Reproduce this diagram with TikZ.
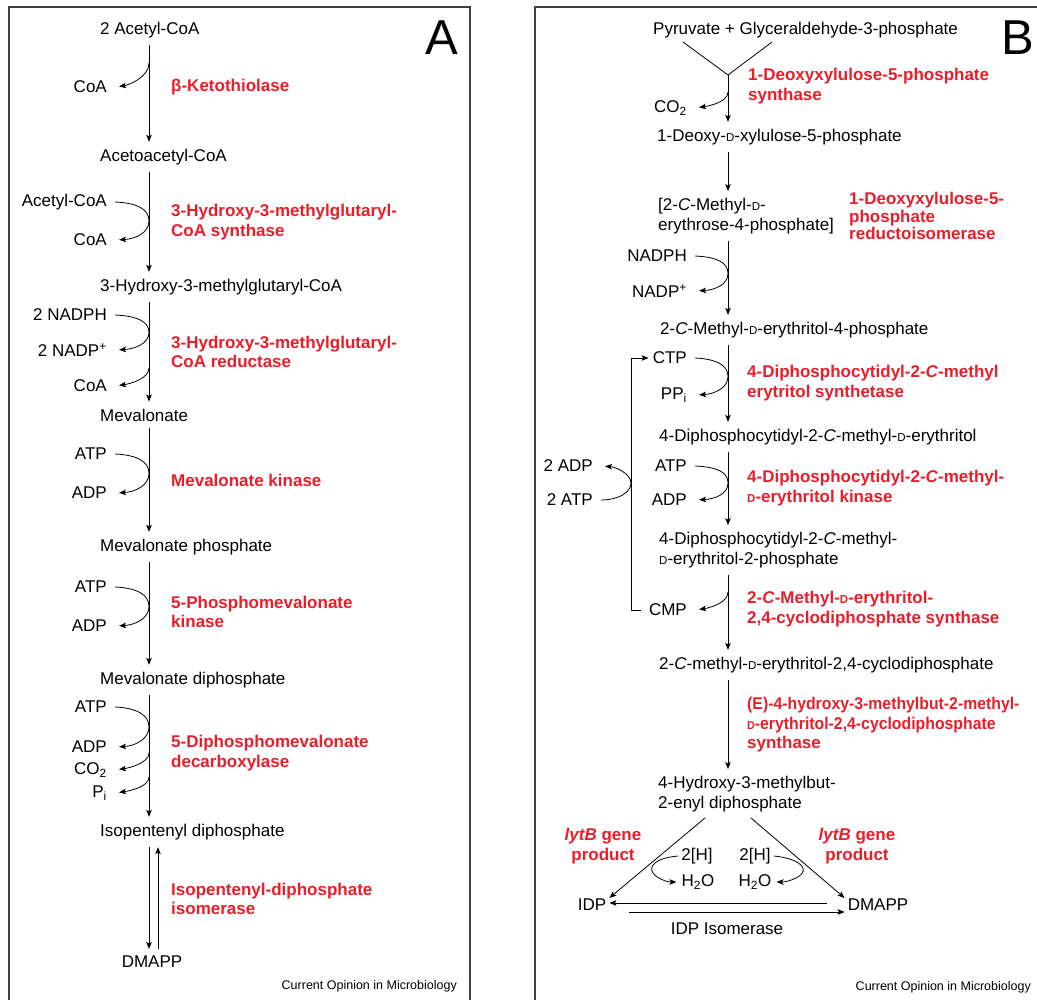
\documentclass[tikz,border=0pt]{standalone}
\usepackage{fontspec}
\usepackage{graphicx}
\setmainfont{Liberation Sans}
\usetikzlibrary{arrows.meta,calc}
\definecolor{enzred}{RGB}{232,30,42}
\definecolor{framegray}{gray}{0.25}
\newcommand{\dsc}{{\fontsize{11.5}{12}\selectfont D}}
\newcommand{\narrow}[1]{\scalebox{0.93}[1]{#1}}

\begin{document}
\begin{tikzpicture}[x=1pt,y=-1pt,font=\fontsize{17}{19.5}\selectfont,
  cpd/.style={anchor=west,inner xsep=0pt,inner ysep=7pt,align=left},
  sidecpd/.style={anchor=east,inner xsep=8pt,inner ysep=1pt},
  smallcpd/.style={inner xsep=3pt,inner ysep=1pt},
  enz/.style={anchor=west,inner sep=0pt,align=left,text=enzred,font=\bfseries\fontsize{17}{19.5}\selectfont},
  rxn/.style={-{Stealth[length=7pt,width=5.5pt,inset=1.5pt]},line width=0.8pt},
  sidearr/.style={rxn,shorten >=4pt}]
\useasboundingbox (0,0) rectangle (1037,1000);

% frames
\draw[framegray,line width=1.2pt] (9,1000) -- (9,7) -- (470,7) -- (470,1000);
\draw[framegray,line width=1.2pt] (535,1000) -- (535,7) -- (1037,7);
\node[font=\fontsize{49}{50}\selectfont] (labA) at (442,38) {A};
\node[font=\fontsize{49}{50}\selectfont] (labB) at (1018,38) {B};
\node[anchor=east,inner sep=0pt,font=\fontsize{12.5}{14}\selectfont] (srcA) at (457,986) {Current Opinion in Microbiology};
\node[anchor=east,inner sep=0pt,font=\fontsize{12.5}{14}\selectfont] (srcB) at (1031,987) {Current Opinion in Microbiology};

%%% A: mevalonate pathway
\coordinate (axisA) at (149,0);
\coordinate (axisA2) at (158,0);
\node[cpd] (a1) at (100,30) {2 Acetyl-CoA};
\node[cpd] (a2) at (100,157) {Acetoacetyl-CoA};
\node[cpd] (a3) at (100,287) {3-Hydroxy-3-methylglutaryl-CoA};
\node[cpd] (a4) at (100,415) {Mevalonate};
\node[cpd] (a5) at (100,547) {Mevalonate phosphate};
\node[cpd] (a6) at (100,680) {Mevalonate diphosphate};
\node[cpd] (a7) at (100,832) {Isopentenyl diphosphate};
\node[cpd,anchor=center] (a8) at (152,962) {DMAPP};

\draw[rxn] (axisA |- a1.south) -- (axisA |- a2.north);
\draw[rxn] (axisA |- a2.south) -- (axisA |- a3.north);
\draw[rxn] (axisA |- a3.south) -- (axisA |- a4.north);
\draw[rxn] (axisA |- a4.south) -- (axisA |- a5.north);
\draw[rxn] (axisA |- a5.south) -- (axisA |- a6.north);
\draw[rxn] (axisA |- a6.south) -- (axisA |- a7.north);
\draw[rxn] (axisA |- a7.south) -- (axisA |- a8.north);
\draw[rxn] (axisA2 |- a8.north) -- (axisA2 |- a7.south);

\node[sidecpd] (coa1) at (115,87) {CoA};
\node[sidecpd] (acA2) at (115,202) {Acetyl-CoA};
\node[sidecpd] (coaA2) at (115,240) {CoA};
\node[sidecpd] (nadph) at (115,315) {2 NADPH};
\node[sidecpd] (nadp) at (115,350) {2 NADP\textsuperscript{+}};
\node[sidecpd] (coaA3) at (115,386) {CoA};
\node[sidecpd] (atp1) at (115,454) {ATP};
\node[sidecpd] (adp1) at (115,493) {ADP};
\node[sidecpd] (atp2) at (115,587) {ATP};
\node[sidecpd] (adp2) at (115,626) {ADP};
\node[sidecpd] (atp3) at (115,707) {ATP};
\node[sidecpd] (adp3) at (115,747) {ADP};
\node[sidecpd] (co2A) at (115,770) {CO\textsubscript{2}};
\node[sidecpd] (piA) at (115,793) {P\textsubscript{i}};

\draw[sidearr] ($(axisA |- coa1)+(0,-24)$) .. controls +(0,14) and +(14,-2) .. (coa1.east);
\draw[sidearr] (acA2.east) .. controls +(22,1) and +(0,-12) .. ($(axisA |- acA2)!.5!(axisA |- coaA2)$) .. controls +(0,12) and +(20,-1) .. (coaA2.east);
\draw[sidearr] (nadph.east) .. controls +(22,1) and +(0,-11) .. ($(axisA |- nadph)!.5!(axisA |- nadp)$) .. controls +(0,11) and +(20,-1) .. (nadp.east);
\draw[sidearr] ($(axisA |- coaA3)+(0,-18)$) .. controls +(0,11) and +(14,-2) .. (coaA3.east);
\draw[sidearr] (atp1.east) .. controls +(22,1) and +(0,-12) .. ($(axisA |- atp1)!.5!(axisA |- adp1)$) .. controls +(0,12) and +(20,-1) .. (adp1.east);
\draw[sidearr] (atp2.east) .. controls +(22,1) and +(0,-12) .. ($(axisA |- atp2)!.5!(axisA |- adp2)$) .. controls +(0,12) and +(20,-1) .. (adp2.east);
\draw[sidearr] (atp3.east) .. controls +(22,1) and +(0,-12) .. ($(axisA |- atp3)!.5!(axisA |- adp3)$) .. controls +(0,12) and +(20,-1) .. (adp3.east);
\draw[sidearr] ($(axisA |- co2A)+(0,-17)$) .. controls +(0,10) and +(14,-2) .. (co2A.east);
\draw[sidearr] ($(axisA |- piA)+(0,-16)$) .. controls +(0,10) and +(14,-2) .. (piA.east);

\node[enz] (e1) at (171,87) {β-Ketothiolase};
\node[enz] (e2) at (171,222) {3-Hydroxy-3-methylglutaryl-\\CoA synthase};
\node[enz] (e3) at (171,352) {3-Hydroxy-3-methylglutaryl-\\CoA reductase};
\node[enz] (e4) at (171,480) {Mevalonate kinase};
\node[enz] (e5) at (171,612) {5-Phosphomevalonate\\kinase};
\node[enz] (e6) at (171,753) {5-Diphosphomevalonate\\decarboxylase};
\node[enz] (e7) at (171,899) {Isopentenyl-diphosphate\\isomerase};

%%% B: non-mevalonate pathway
\coordinate (axisB) at (728,0);
\node[cpd] (b0) at (653,30) {Pyruvate + Glyceraldehyde-3-phosphate};
\node[cpd] (b1) at (657,137) {1-Deoxy-\dsc-xylulose-5-phosphate};
\node[cpd] (b2) at (658,216) {[2-\textit{C}-Methyl-\dsc-\\erythrose-4-phosphate]};
\node[cpd] (b3) at (660,330) {2-\textit{C}-Methyl-\dsc-erythritol-4-phosphate};
\node[cpd] (b4) at (659,437) {4-Diphosphocytidyl-2-\textit{C}-methyl-\dsc-erythritol};
\node[cpd] (b5) at (659,550) {4-Diphosphocytidyl-2-\textit{C}-methyl-\\\dsc-erythritol-2-phosphate};
\node[cpd] (b6) at (659,665) {2-\textit{C}-methyl-\dsc-erythritol-2,4-cyclodiphosphate};
\node[cpd] (b7) at (658,794) {4-Hydroxy-3-methylbut-\\2-enyl diphosphate};
\node[smallcpd] (idp) at (592,905) {IDP};
\node[smallcpd] (dmapp) at (878,905) {DMAPP};

\coordinate (yl) at (683,42);
\coordinate (yr) at (772,42);
\coordinate (yj) at (728,75);
\draw[line width=0.8pt] (yl) -- (yj) -- (yr);
\draw[rxn] (yj) -- (axisB |- b1.north);
\draw[rxn] (axisB |- b1.south) -- (axisB |- b2.north);
\draw[rxn] (axisB |- b2.south) -- (axisB |- b3.north);
\draw[rxn] (axisB |- b3.south) -- (axisB |- b4.north);
\draw[rxn] (axisB |- b4.south) -- (axisB |- b5.north);
\draw[rxn] (axisB |- b5.south) -- (axisB |- b6.north);
\draw[rxn] (axisB |- b6.south) -- (axisB |- b7.north);

\node[sidecpd] (co2B) at (695,108) {CO\textsubscript{2}};
\node[sidecpd] (nadphB) at (695,256) {NADPH};
\node[sidecpd] (nadpB) at (695,291) {NADP\textsuperscript{+}};
\node[sidecpd] (ctp) at (695,358) {CTP};
\node[sidecpd] (ppi) at (695,395) {PP\textsubscript{i}};
\node[sidecpd] (atpB) at (695,466) {ATP};
\node[sidecpd] (adpB) at (695,500) {ADP};
\node[sidecpd] (cmp) at (695,610) {CMP};
\node[sidecpd] (adpRec) at (601,466) {2 ADP};
\node[sidecpd] (atpRec) at (601,500) {2 ATP};

\draw[sidearr] ($(axisB |- co2B)+(0,-16)$) .. controls +(0,10) and +(14,-2) .. (co2B.east);
\draw[sidearr] (nadphB.east) .. controls +(22,1) and +(0,-11) .. ($(axisB |- nadphB)!.5!(axisB |- nadpB)$) .. controls +(0,11) and +(20,-1) .. (nadpB.east);
\draw[sidearr] (ctp.east) .. controls +(22,1) and +(0,-11) .. ($(axisB |- ctp)!.5!(axisB |- ppi)$) .. controls +(0,11) and +(20,-1) .. (ppi.east);
\draw[sidearr] (atpB.east) .. controls +(22,1) and +(0,-11) .. ($(axisB |- atpB)!.5!(axisB |- adpB)$) .. controls +(0,11) and +(20,-1) .. (adpB.east);
\draw[sidearr] ($(axisB |- cmp)+(0,-18)$) .. controls +(0,11) and +(14,-2) .. (cmp.east);

% CMP recycled to CTP
\coordinate (brk) at (631,0);
\draw[rxn] (cmp.west) -- (cmp.west -| brk) -- (ctp.west -| brk) -- ([xshift=4pt]ctp.west);
\draw[sidearr] (atpRec.east) .. controls +(18,0) and +(0,9) .. ($(brk |- atpRec)!.5!(brk |- adpRec)$) .. controls +(0,-9) and +(15,1) .. (adpRec.east);

\node[enz] (f1) at (748,86) {1-Deoxyxylulose-5-phosphate\\synthase};
\node[enz,font=\bfseries\fontsize{17}{17.5}\selectfont] (f2) at (849,216) {1-Deoxyxylulose-5-\\phosphate\\reductoisomerase};
\node[enz] (f3) at (747,383) {4-Diphosphocytidyl-2-\textit{C}-methyl\\erytritol synthetase};
\node[enz] (f4) at (747,488) {4-Diphosphocytidyl-2-\textit{C}-methyl-\\\dsc-erythritol kinase};
\node[enz] (f5) at (747,609) {2-\textit{C}-Methyl-\dsc-erythritol-\\2,4-cyclodiphosphate synthase};
\node[enz] (f6) at (747,725) {\narrow{(E)-4-hydroxy-3-methylbut-2-methyl-}\\\narrow{\dsc-erythritol-2,4-cyclodiphosphate}\\synthase};

% last step: IDP and DMAPP
\coordinate (dl) at (705,818);
\coordinate (dr) at (751,818);
\draw[rxn] (dl) -- (idp.north east);
\draw[rxn] (dr) -- (dmapp.north west);
\node[enz,anchor=center,align=center] (lytL) at (603,846) {\textit{lytB} gene\\product};
\node[enz,anchor=center,align=center] (lytR) at (857,846) {\textit{lytB} gene\\product};
\node[smallcpd] (h2l) at (697,856) {2[H]};
\node[smallcpd] (w2l) at (698,882) {H\textsubscript{2}O};
\node[smallcpd] (h2r) at (755,856) {2[H]};
\node[smallcpd] (w2r) at (755,882) {H\textsubscript{2}O};
\coordinate (ml) at (652,867);
\coordinate (mr) at (803,868);
\draw[rxn,shorten >=2pt] (h2l.west) .. controls +(-12,1) and +(3,-7) .. (ml) .. controls +(-3,8) and +(-14,0) .. (w2l.west);
\draw[rxn,shorten >=2pt] (h2r.east) .. controls +(12,1) and +(-3,-7) .. (mr) .. controls +(3,8) and +(14,0) .. (w2r.east);
\draw[rxn] ([xshift=-18pt,yshift=2pt]dmapp.west) -- ([yshift=2pt]idp.east);
\draw[rxn] ([xshift=20pt,yshift=-7pt]idp.east) -- ([yshift=-7pt]dmapp.west);
\node (isom) at (727,929) {IDP Isomerase};
\end{tikzpicture}
\end{document}
